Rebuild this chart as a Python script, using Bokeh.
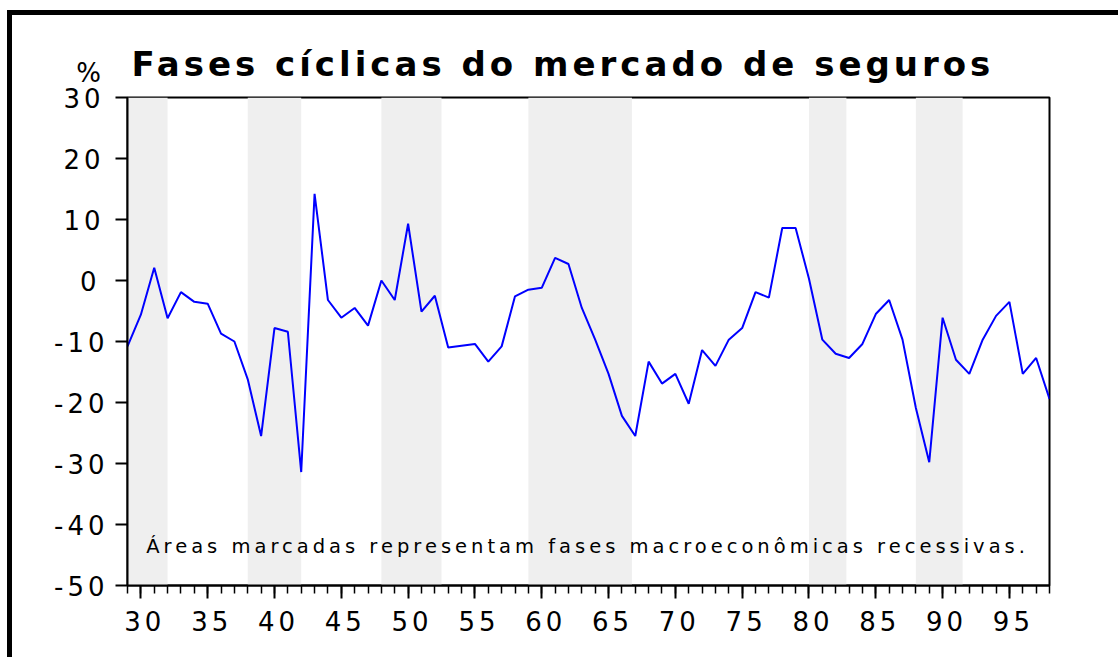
from bokeh.plotting import figure
from bokeh.models import Range1d, FixedTicker, BoxAnnotation, Label
from bokeh.embed import file_html
from bokeh.resources import INLINE

# ---- data ----
years = list(range(1929, 1999))
values = [-10.8, -5.6, 2.1, -6.2, -1.9, -3.5, -3.8, -8.7, -10.0, -16.2,
          -25.5, -7.8, -8.4, -31.4, 14.2, -3.2, -6.1, -4.5, -7.4, 0.0,
          -3.2, 9.3, -5.1, -2.5, -11.0, -10.7, -10.4, -13.3, -10.8, -2.6,
          -1.5, -1.2, 3.7, 2.7, -4.5, -9.7, -15.3, -22.2, -25.5, -13.3,
          -16.9, -15.3, -20.2, -11.4, -14.0, -9.7, -7.8, -1.9, -2.8, 8.6,
          8.6, 0.3, -9.7, -12.0, -12.7, -10.4, -5.5, -3.2, -9.7, -20.9,
          -29.8, -6.1, -13.0, -15.3, -9.7, -5.8, -3.5, -15.3, -12.7, -19.4]
rec_start = [1929, 1938, 1948, 1959, 1980, 1988]
rec_end = [1932, 1942, 1952.5, 1966.75, 1982.8, 1991.5]
y_ticks = [-50, -40, -30, -20, -10, 0, 10, 20, 30]
y_labels = ["-50", "-40", "-30", "-20", "-10", "0", "10", "20", "30"]
x_major = [1930, 1935, 1940, 1945, 1950, 1955, 1960, 1965, 1970, 1975, 1980, 1985, 1990, 1995]
x_labels = ["30", "35", "40", "45", "50", "55", "60", "65", "70", "75", "80", "85", "90", "95"]
title_text = "Fases cíclicas do mercado de seguros"
note_text = "Áreas marcadas representam fases macroeconômicas recessivas."
unit_text = "%"

FONT = "DejaVu Sans"

p = figure(width=1118, height=657, output_backend="svg", toolbar_location=None,
           x_range=Range1d(1929, 1998), y_range=Range1d(-50, 30),
           min_border_left=127, min_border_right=69, min_border_top=97, min_border_bottom=72)
# letter spacing for the wide lettering, and the heavy outer frame (top and left edges)
p.styles = {
    "letter-spacing": "4px",
    "background-color": "white",
    "background-image": "linear-gradient(#000, #000), linear-gradient(#000, #000)",
    "background-size": "5px 100%, 100% 5px",
    "background-position": "7px 10px, 7px 10px",
    "background-repeat": "no-repeat",
}
p.background_fill_color = "white"
p.border_fill_color = None
p.outline_line_color = "black"
p.outline_line_width = 2
p.xgrid.visible = False
p.ygrid.visible = False

# title
p.title.text = title_text
p.title.text_font = FONT
p.title.text_font_size = "34px"
p.title.text_font_style = "bold"
p.title.text_color = "black"
p.title.align = "left"
p.title.offset = 4
p.title.standoff = 28

# recession shading
for s, e in zip(rec_start, rec_end):
    p.add_layout(BoxAnnotation(left=s, right=e, fill_color="#efefef", fill_alpha=1.0,
                               line_color=None, level="underlay"))

p.line(years, values, line_color="#0000ff", line_width=2)

# axes
xa = p.xaxis[0]
xa.ticker = FixedTicker(ticks=x_major, minor_ticks=years)
xa.major_label_overrides = dict(zip(x_major, x_labels))
xa.axis_line_width = 2
xa.major_tick_line_width = 2
xa.minor_tick_line_width = 1.5
xa.major_tick_out = 13
xa.major_tick_in = 0
xa.minor_tick_out = 8
xa.minor_tick_in = 0
xa.major_label_text_font = FONT
xa.major_label_text_font_size = "26px"
xa.major_label_text_color = "black"
xa.major_label_standoff = 12

ya = p.yaxis[0]
ya.ticker = FixedTicker(ticks=y_ticks, minor_ticks=[])
ya.major_label_overrides = dict(zip(y_ticks, y_labels))
ya.axis_line_width = 2
ya.major_tick_line_width = 2
ya.major_tick_out = 12
ya.major_tick_in = 0
ya.minor_tick_line_color = None
ya.major_label_text_font = FONT
ya.major_label_text_font_size = "26px"
ya.major_label_text_color = "black"
ya.major_label_standoff = 19

# note inside the plot area
p.add_layout(Label(x=1930.4, y=-43.6, text=note_text, text_align="left",
                   text_baseline="alphabetic", text_font_size="19.5px",
                   text_font=FONT, text_color="black"))

# unit label (in side panel so it is not clipped to the frame)
p.add_layout(Label(x=88, y=72, x_units="canvas", y_units="canvas", text=unit_text,
                   text_align="center", text_baseline="alphabetic", text_font_size="26px",
                   text_font=FONT, text_color="black"), "left")

open("out.html", "w").write(file_html(p, INLINE))
